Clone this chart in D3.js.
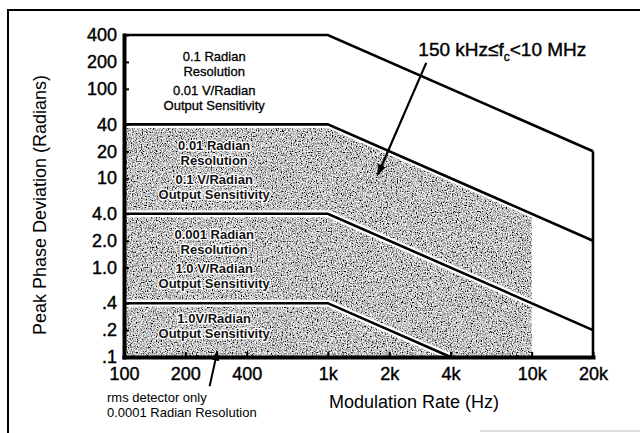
<!DOCTYPE html>
<html>
<head>
<meta charset="utf-8">
<script src="https://cdn.jsdelivr.net/npm/d3@7"></script>
<style>
  body { margin: 0; background: #fff; }
  svg { display: block; font-family: "Liberation Sans", Arial, sans-serif; }
</style>
</head>
<body>
<script>
// data
var xTicks = [100, 200, 400, 1000, 2000, 4000, 10000, 20000];
var xTickLabels = ["100", "200", "400", "1k", "2k", "4k", "10k", "20k"];
var yTicks = [400, 200, 100, 40, 20, 10, 4, 2, 1, 0.4, 0.2, 0.1];
var yTickLabels = ["400", "200", "100", "40", "20", "10", "4.0", "2.0", "1.0", ".4", ".2", ".1"];

// boundary lines (freq Hz, peak deviation rad)
var line400 = [[100, 400], [1000, 400], [20000, 20]];
var line40 = [[100, 40], [1000, 40], [20000, 2]];
var line4 = [[100, 4], [1000, 4], [20000, 0.2]];
var line04 = [[100, 0.4], [1000, 0.4], [4000, 0.1]];
var rightEdge = [[20000, 20], [20000, 0.1]];
// shaded area
var grayArea = [[100, 0.1], [100, 40], [1000, 40], [10000, 4], [10000, 0.1]];

// band texts
var bandTop = [400, 40, 4, 0.4];
var bandBottom = [40, 4, 0.4, 0.1];
var bandText = [
  ["0.1 Radian", "Resolution", "0.01 V/Radian", "Output Sensitivity"],
  ["0.01 Radian", "Resolution", "0.1 V/Radian", "Output Sensitivity"],
  ["0.001 Radian", "Resolution", "1.0 V/Radian", "Output Sensitivity"],
  ["1.0V/Radian", "Output Sensitivity"]
];

var width = 640, height = 433;

var svg = d3.select("body").append("svg")
  .attr("width", width)
  .attr("height", height);

var x = d3.scaleLog().domain([100, 20000]).range([124, 593]);
var y = d3.scaleLog().domain([0.1, 400]).range([357, 35]);

var line = d3.line()
  .x(function(d){ return x(d[0]); })
  .y(function(d){ return y(d[1]); });

var defs = svg.append("defs");

// grainy print-like gray
var flt = defs.append("filter")
  .attr("id", "grain")
  .attr("x", 0).attr("y", 0).attr("width", 1).attr("height", 1);
flt.append("feTurbulence")
  .attr("type", "fractalNoise")
  .attr("baseFrequency", 0.8)
  .attr("numOctaves", 2)
  .attr("seed", 3)
  .attr("result", "noise");
flt.append("feColorMatrix")
  .attr("in", "noise")
  .attr("type", "matrix")
  .attr("values", "2.4 0 0 0 -0.66  2.4 0 0 0 -0.66  2.4 0 0 0 -0.66  0 0 0 0 1")
  .attr("result", "g");
flt.append("feComposite")
  .attr("in", "g")
  .attr("in2", "SourceGraphic")
  .attr("operator", "in");

defs.append("marker")
  .attr("id", "head")
  .attr("viewBox", "0 0 10 10")
  .attr("refX", 9).attr("refY", 5)
  .attr("markerWidth", 5).attr("markerHeight", 5)
  .attr("markerUnits", "strokeWidth")
  .attr("orient", "auto")
  .append("path")
  .attr("d", "M0,1 L10,5 L0,9 Z")
  .attr("fill", "#000");

// frame
svg.append("path")
  .attr("d", "M8,433 V10 H640")
  .attr("fill", "none")
  .attr("stroke", "#000")
  .attr("stroke-width", 2);
svg.append("line")
  .attr("x1", 480).attr("x2", 640).attr("y1", 431).attr("y2", 431)
  .attr("stroke", "#bbb").attr("stroke-width", 1);

// shaded area
svg.append("path")
  .attr("d", line(grayArea) + "Z")
  .attr("fill", "#888")
  .attr("filter", "url(#grain)");

// lines with white halo inside the shaded part
[line40, line4, line04].forEach(function(l){
  svg.append("path")
    .attr("d", line(l))
    .attr("fill", "none")
    .attr("stroke", "#fff")
    .attr("stroke-width", 7);
});
[line400, line40, line4, line04, rightEdge].forEach(function(l){
  svg.append("path")
    .attr("d", line(l))
    .attr("fill", "none")
    .attr("stroke", "#000")
    .attr("stroke-width", 2.6)
    .attr("stroke-linejoin", "miter");
});

// axes
var xAxis = svg.append("g")
  .attr("transform", "translate(0," + y(0.1) + ")")
  .call(d3.axisBottom(x)
    .tickValues(xTicks)
    .tickFormat(function(d, i){ return xTickLabels[i]; })
    .tickSize(-5)
    .tickSizeOuter(0)
    .tickPadding(10));

var yAxis = svg.append("g")
  .attr("transform", "translate(" + x(100) + ",0)")
  .call(d3.axisLeft(y)
    .tickValues(yTicks)
    .tickFormat(function(d, i){ return yTickLabels[i]; })
    .tickSize(-5)
    .tickSizeOuter(0)
    .tickPadding(7));

[xAxis, yAxis].forEach(function(g){
  g.select(".domain").attr("stroke", "#000").attr("stroke-width", 4).attr("stroke-linecap", "square");
  g.selectAll(".tick line").attr("stroke", "#000").attr("stroke-width", 2);
  g.selectAll(".tick text")
    .attr("fill", "#000")
    .attr("font-family", "Liberation Sans, Arial, sans-serif")
    .attr("font-size", 18)
    .attr("stroke", "#000")
    .attr("stroke-width", 0.4);
});

// axis titles
svg.append("text")
  .attr("x", 414).attr("y", 408)
  .attr("text-anchor", "middle")
  .attr("font-size", 18)
  .text("Modulation Rate (Hz)");

svg.append("text")
  .attr("transform", "translate(46,205) rotate(-90)")
  .attr("text-anchor", "middle")
  .attr("font-size", 18)
  .text("Peak Phase Deviation (Radians)");

// band texts
var cx = x(277);
bandText.forEach(function(lines, b){
  var cy = (y(bandTop[b]) + y(bandBottom[b])) / 2;
  var offs = lines.length === 4 ? [-23, -8, 11, 26] : [-11, 4];
  lines.forEach(function(t, i){
    var txt = svg.append("text")
      .attr("x", cx)
      .attr("y", cy + offs[i] + 4)
      .attr("text-anchor", "middle")
      .attr("font-size", 13)
      .text(t);
    if (b > 0) {
      txt.attr("font-weight", "bold")
        .attr("fill", "#111")
        .attr("stroke", "#fff")
        .attr("stroke-width", 2.6)
        .attr("paint-order", "stroke");
    } else {
      txt.attr("stroke", "#000").attr("stroke-width", 0.3);
    }
  });
});

// annotation: carrier range
var ann = svg.append("text")
  .attr("x", x(2780)).attr("y", y(230))
  .attr("font-size", 19)
  .attr("stroke", "#000").attr("stroke-width", 0.4);
ann.append("tspan").text("150 kHz\u2264f");
ann.append("tspan").attr("font-size", 12).attr("dy", 5).text("c");
ann.append("tspan").attr("dy", -5).text("<10 MHz");

svg.append("line")
  .attr("x1", x(3040)).attr("y1", y(195))
  .attr("x2", x(1760)).attr("y2", y(11))
  .attr("stroke", "#000").attr("stroke-width", 2.2)
  .attr("marker-end", "url(#head)");

// annotation: rms detector
svg.append("text")
  .attr("x", 107).attr("y", 402)
  .attr("font-size", 13)
  .text("rms detector only");
svg.append("text")
  .attr("x", 107).attr("y", 417)
  .attr("font-size", 13)
  .text("0.0001 Radian Resolution");

svg.append("line")
  .attr("x1", x(263)).attr("y1", y(0.047))
  .attr("x2", x(287)).attr("y2", y(0.115))
  .attr("stroke", "#000").attr("stroke-width", 2)
  .attr("marker-end", "url(#head)");
</script>
</body>
</html>
